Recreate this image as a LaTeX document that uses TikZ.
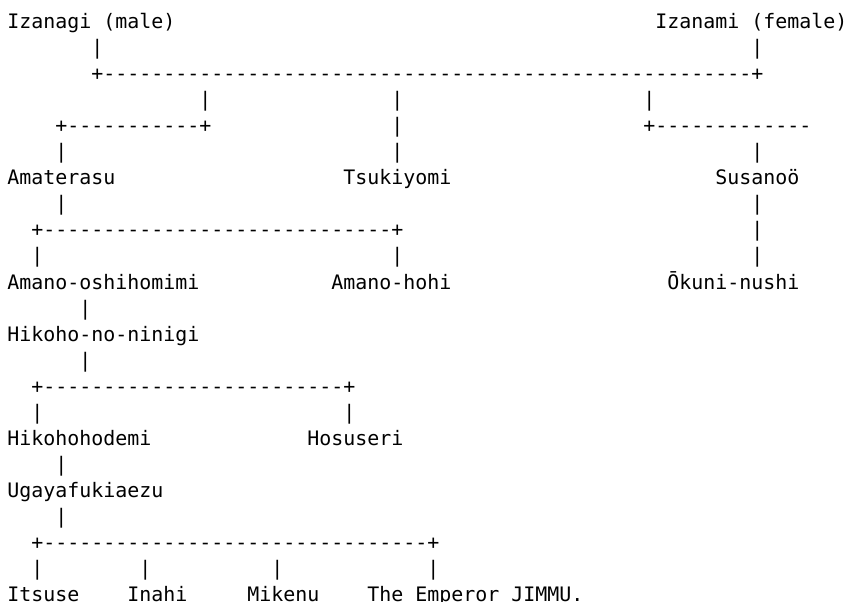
\documentclass[tikz,border=0pt]{standalone}
\usepackage{fontspec}
\setmonofont{DejaVu Sans Mono}

\tikzset{
  glyph/.style={font=\ttfamily\fontsize{19.93pt}{26pt}\selectfont,
    inner sep=0pt, outer sep=0pt, anchor=base west},
  person/.style={glyph}
}

\begin{document}
\begin{tikzpicture}[x=12pt, y=-26.05pt]

  % page: one unit = one character column / one text line
  \useasboundingbox (-0.608,-1.094) rectangle (69.975,22.015);

  % First pair
  \node[person] (izanagi) at (0,0)  {Izanagi (male)};
  \node[person] (izanami) at (54,0) {Izanami (female)};

  % Their children
  \node[person] (amaterasu) at (0,6)  {Amaterasu};
  \node[person] (tsukiyomi) at (28,6) {Tsukiyomi};
  \node[person] (susanoo)   at (59,6) {Susanoö};

  % Next generation
  \node[person] (oshihomimi) at (0,10)  {Amano-oshihomimi};
  \node[person] (hohi)       at (27,10) {Amano-hohi};
  \node[person] (okuninushi) at (55,10) {Ōkuni-nushi};
  \node[person] (ninigi)     at (0,12)  {Hikoho-no-ninigi};
  \node[person] (hohodemi)   at (0,16)  {Hikohohodemi};
  \node[person] (hosuseri)   at (25,16) {Hosuseri};
  \node[person] (ugaya)      at (0,18)  {Ugayafukiaezu};

  % Last line
  \node[person] (itsuse) at (0,22)  {Itsuse};
  \node[person] (inahi)  at (10,22) {Inahi};
  \node[person] (mikenu) at (20,22) {Mikenu};
  \node[person] (jimmu)  at (30,22) {The Emperor JIMMU.};

  % Vertical bars (column/line)
  \foreach \c/\r in {
    7/1, 62/1,
    16/3, 32/3, 53/3,
    32/4,
    4/5, 32/5, 62/5,
    4/7, 62/7,
    62/8,
    2/9, 32/9, 62/9,
    6/11, 6/13,
    2/15, 28/15,
    4/17, 4/19,
    2/21, 11/21, 22/21, 35/21}
    \node[glyph] (bar-\c-\r) at (\c,\r) {|};

  % Horizontal joins: +----+ from column a to column b on line r
  \foreach \a/\b/\r in {7/62/2, 4/16/4, 2/32/8, 2/28/14, 2/35/20} {
    \node[glyph] (plus-\a-\r) at (\a,\r) {+};
    \node[glyph] (plus-\b-\r) at (\b,\r) {+};
    \pgfmathtruncatemacro\first{\a+1}
    \pgfmathtruncatemacro\last{\b-1}
    \foreach \c in {\first,...,\last}
      \node[glyph] (dash-\c-\r) at (\c,\r) {-};
  }

  % Open join on the right (Susanoö side)
  \node[glyph] (plus-53-4) at (53,4) {+};
  \foreach \c in {54,...,66}
    \node[glyph] (dash-\c-4) at (\c,4) {-};

\end{tikzpicture}
\end{document}
